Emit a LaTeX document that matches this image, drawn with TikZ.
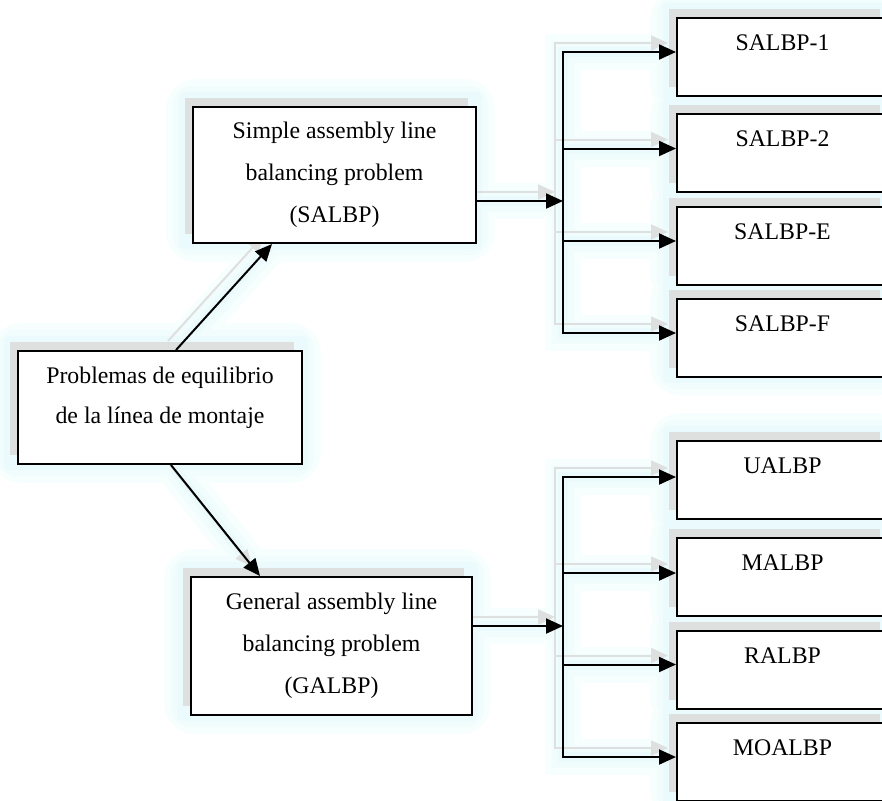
\documentclass[tikz,border=0pt]{standalone}
\usepackage{fontspec}
\setmainfont{Liberation Serif}
\usetikzlibrary{arrows.meta,shadows}
\pgfdeclarelayer{background}
\pgfsetlayers{background,main}
\definecolor{shgray}{RGB}{222,224,224}
\definecolor{glowout}{RGB}{247,254,254}
\definecolor{glowmid}{RGB}{241,252,253}
\definecolor{glowin}{RGB}{235,250,252}

% All connectors of the chart; #1 = line style, #2 = tip style
\newcommand{\drawlinks}[2]{%
  \draw[#1,#2] ([xshift=8pt]root.north) -- ([xshift=-31.25pt]salbp.south);
  \draw[#1,#2] ([xshift=5.5pt]root.south) -- ([xshift=-35.75pt]galbp.north);
  \draw[#1,#2] (salbp.east |- sbus) -- (sbus);
  \draw[#1,line cap=rect] (a1 -| sbus) -- (a4 -| sbus);
  \foreach \tgt in {a1,a2,a3,a4} \draw[#1,#2] (\tgt -| sbus) -- (\tgt);
  \draw[#1,#2] (galbp.east |- gbus) -- (gbus);
  \draw[#1,line cap=rect] (b1 -| gbus) -- (b4 -| gbus);
  \foreach \tgt in {b1,b2,b3,b4} \draw[#1,#2] (\tgt -| gbus) -- (\tgt);
}
% Glow band around every box (shadow included)
\newcommand{\glowboxes}[1]{%
  \foreach \n in {root,salbp,galbp,s1,s2,sE,sF,u,m,r,mo}
    \draw[#1] ([shift={(-4pt,4.5pt)}]\n.north west) rectangle (\n.south east);
}

\begin{document}
\begin{tikzpicture}[x=0.5pt,y=-0.5pt,
  box/.style={draw=black, line width=1pt, fill=white, inner sep=0pt,
    general shadow={fill=shgray, shadow xshift=-4pt, shadow yshift=4.5pt}},
  wide/.style={box, minimum width=105.5pt, minimum height=39pt},
  lbl/.style={inner sep=0pt, align=center, font=\fontsize{11.9}{20}\selectfont},
  multi/.style={align=center, font=\fontsize{11.9}{21}\selectfont},
  link/.style={draw=black, line width=1pt},
  shadowlink/.style={draw=shgray, line width=1pt},
  tip/.style={-{Triangle[length=8.5pt,width=7.5pt]}},
  glowA/.style={draw=glowout, line width=18pt, line cap=round, line join=round},
  glowM/.style={draw=glowmid, line width=11pt, line cap=round, line join=round},
  glowB/.style={draw=glowin, line width=5pt, line cap=round, line join=round},
  glowboxA/.style={glowA, fill=glowout, rounded corners=6pt},
  glowboxM/.style={glowM, fill=glowmid, rounded corners=4pt},
  glowboxB/.style={glowB, fill=glowin},
]
\useasboundingbox (0,0) rectangle (882,800);

% root problem
\node[box, minimum width=142pt, minimum height=56.5pt] (root) at (160,407.5) {};
\path (root.center) ++(0,-10) node[lbl] (rootlbl) {Problemas de equilibrio\\de la línea de montaje};

% the two families
\node[box, multi, minimum width=141.5pt, minimum height=68pt] (salbp) at (334.5,175)
  {Simple assembly line\\balancing problem\\(SALBP)};
\node[box, multi, minimum width=140.5pt, minimum height=69pt] (galbp) at (331.5,646)
  {General assembly line\\balancing problem\\(GALBP)};

% SALBP variants
\node[wide] (s1) at (782.5,56.5) {};
\node[wide] (s2) at (782.5,153) {};
\node[wide] (sE) at (782.5,245.5) {};
\node[wide] (sF) at (782.5,337.5) {};
\path (s1.north) ++(0,26) node[lbl] (s1lbl) {SALBP-1};
\path (s2.north) ++(0,26) node[lbl] (s2lbl) {SALBP-2};
\path (sE.north) ++(0,26) node[lbl] (sElbl) {SALBP-E};
\path (sF.north) ++(0,26) node[lbl] (sFlbl) {SALBP-F};

% GALBP variants
\node[wide] (u) at (782.5,480) {};
\node[wide] (m) at (782.5,577) {};
\node[wide] (r) at (782.5,669.5) {};
\node[wide] (mo) at (782.5,761.5) {};
\path (u.north) ++(0,26) node[lbl] (ulbl) {UALBP};
\path (m.north) ++(0,26) node[lbl] (mlbl) {MALBP};
\path (r.north) ++(0,26) node[lbl] (rlbl) {RALBP};
\path (mo.north) ++(0,26) node[lbl] (molbl) {MOALBP};

% junctions and arrow targets
\coordinate (sbus) at (563,201);
\coordinate (gbus) at (563,626);
\coordinate (a1) at ([yshift=2.25pt]s1.west);
\coordinate (a2) at ([yshift=2.25pt]s2.west);
\coordinate (a3) at ([yshift=2.25pt]sE.west);
\coordinate (a4) at ([yshift=2.25pt]sF.west);
\coordinate (b1) at ([yshift=1.5pt]u.west);
\coordinate (b2) at ([yshift=2pt]m.west);
\coordinate (b3) at ([yshift=2.5pt]r.west);
\coordinate (b4) at ([yshift=2.25pt]mo.west);

% soft glow and grey shadows underneath
\begin{pgfonlayer}{background}
  \glowboxes{glowboxA}
  \drawlinks{glowA}{}
  \glowboxes{glowboxM}
  \drawlinks{glowM}{}
  \glowboxes{glowboxB}
  \drawlinks{glowB}{}
  \begin{scope}[transform canvas={xshift=-4pt,yshift=4.5pt}]
    \drawlinks{shadowlink}{tip}
  \end{scope}
\end{pgfonlayer}

% connectors
\drawlinks{link}{tip}
\end{tikzpicture}
\end{document}
